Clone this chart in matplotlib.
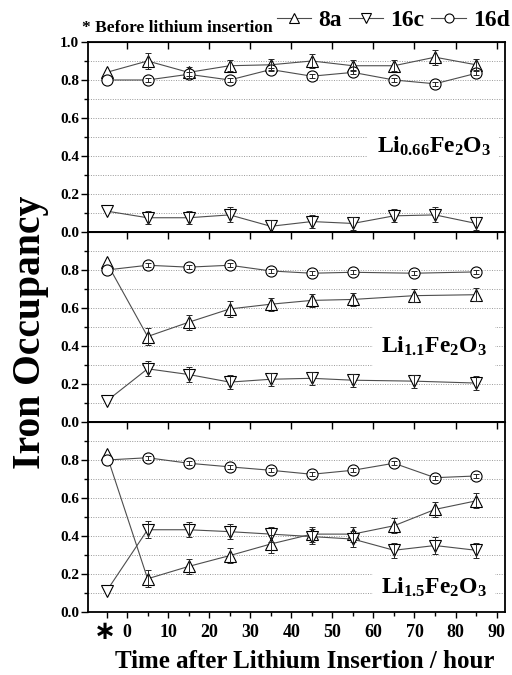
import numpy as np
import matplotlib
matplotlib.use("Agg")
import matplotlib.pyplot as plt
from matplotlib.lines import Line2D

plt.rcParams["font.family"] = ["Liberation Serif", "DejaVu Serif"]
plt.rcParams["font.weight"] = "bold"
plt.rcParams["mathtext.fontset"] = "custom"
plt.rcParams["mathtext.rm"] = "Liberation Serif:bold"
plt.rcParams["mathtext.it"] = "Liberation Serif:bold"
plt.rcParams["mathtext.bf"] = "Liberation Serif:bold"

# ── data (x = -5 is the "before lithium insertion" point) ─────────────────────
x_066 = [-5, 5, 15, 25, 35, 45, 55, 65, 75, 85]
a8_066 = [0.84, 0.90, 0.84, 0.875, 0.88, 0.90, 0.875, 0.875, 0.92, 0.88]
c16_066 = [0.11, 0.075, 0.075, 0.09, 0.03, 0.055, 0.045, 0.085, 0.09, 0.045]
d16_066 = [0.80, 0.80, 0.83, 0.80, 0.855, 0.82, 0.84, 0.80, 0.78, 0.835]
a8_066_err = [0, 0.04, 0.03, 0.03, 0.03, 0.035, 0.03, 0.03, 0.04, 0.03]
c16_066_err = [0, 0.035, 0.035, 0.04, 0.035, 0.035, 0.035, 0.035, 0.04, 0.035]
d16_066_err = [0, 0.01, 0.01, 0.01, 0.01, 0.01, 0.01, 0.01, 0.01, 0.01]

x_11 = [-5, 5, 15, 25, 35, 45, 55, 70, 85]
a8_11 = [0.84, 0.45, 0.525, 0.595, 0.62, 0.64, 0.645, 0.665, 0.67]
c16_11 = [0.11, 0.28, 0.25, 0.21, 0.225, 0.23, 0.22, 0.215, 0.205]
d16_11 = [0.80, 0.825, 0.815, 0.825, 0.795, 0.783, 0.788, 0.783, 0.79]
a8_11_err = [0, 0.045, 0.04, 0.04, 0.035, 0.035, 0.035, 0.035, 0.035]
c16_11_err = [0, 0.04, 0.04, 0.035, 0.035, 0.035, 0.035, 0.035, 0.035]
d16_11_err = [0, 0.01, 0.01, 0.01, 0.01, 0.01, 0.01, 0.01, 0.01]

x_15 = [-5, 5, 15, 25, 35, 45, 55, 65, 75, 85]
a8_15 = [0.83, 0.175, 0.24, 0.297, 0.358, 0.41, 0.41, 0.454, 0.54, 0.585]
c16_15 = [0.11, 0.433, 0.433, 0.423, 0.41, 0.397, 0.384, 0.325, 0.35, 0.325]
d16_15 = [0.80, 0.812, 0.783, 0.764, 0.746, 0.725, 0.746, 0.783, 0.707, 0.716]
a8_15_err = [0, 0.045, 0.04, 0.04, 0.045, 0.04, 0.04, 0.04, 0.04, 0.04]
c16_15_err = [0, 0.045, 0.04, 0.04, 0.04, 0.04, 0.04, 0.04, 0.045, 0.04]
d16_15_err = [0, 0.01, 0.01, 0.01, 0.01, 0.01, 0.01, 0.01, 0.01, 0.01]

panels = [
    (x_066, a8_066, c16_066, d16_066, a8_066_err, c16_066_err, d16_066_err,
     r"$\mathrm{Li_{0.66}Fe_2O_3}$", 0.45),
    (x_11, a8_11, c16_11, d16_11, a8_11_err, c16_11_err, d16_11_err,
     r"$\mathrm{Li_{1.1}Fe_2O_3}$", 0.40),
    (x_15, a8_15, c16_15, d16_15, a8_15_err, c16_15_err, d16_15_err,
     r"$\mathrm{Li_{1.5}Fe_2O_3}$", 0.13),
]

series_style = [("^", 9), ("v", 9), ("o", 8)]
x_major = [-5] + list(range(0, 91, 10))
x_labels = [""] + [str(v) for v in range(0, 91, 10)]

# ── figure ────────────────────────────────────────────────────────────────────
fig = plt.figure(figsize=(5.12, 6.75), dpi=100, facecolor="white")
LEFT, WIDTH, H = 0.172, 0.814, 0.2815
bottoms = [0.0933 + 2 * H, 0.0933 + H, 0.0933]

for i, (xs, a8, c16, d16, ea, ec, ed, label, ly) in enumerate(panels):
    ax = fig.add_axes([LEFT, bottoms[i], WIDTH, H])
    ax.set_xlim(-9.5, 92)
    ax.set_ylim(0, 1.0)

    for g in np.arange(0.1, 0.95, 0.1):
        ax.axhline(g, ls=(0, (1, 1.5)), color="0.6", lw=0.7, zorder=1)

    for (mk, ms), ys, es in zip(series_style, (a8, c16, d16), (ea, ec, ed)):
        xs_a, ys_a, es_a = np.array(xs), np.array(ys), np.array(es)
        ax.plot(xs_a, ys_a, color="0.3", lw=0.8, marker=mk, ms=ms,
                mfc="white", mec="black", mew=0.8, zorder=3)
        m = es_a > 0
        ax.errorbar(xs_a[m], ys_a[m], yerr=es_a[m], fmt="none", ecolor="0.15",
                    elinewidth=0.7, capsize=2.5, capthick=0.7, zorder=4)

    ax.text(74.7, ly, label, fontsize=17, ha="center", va="center", zorder=2,
            bbox=dict(facecolor="white", edgecolor="none", pad=6))

    for sp in ax.spines.values():
        sp.set_linewidth(1.3)

    ax.set_yticks(np.arange(0, 1.01 if i == 0 else 0.81, 0.2))
    ax.set_yticks(np.arange(0.1, 1.0, 0.2), minor=True)
    ax.yaxis.set_major_formatter(matplotlib.ticker.FormatStrFormatter("%.1f"))
    ax.tick_params(axis="y", which="major", direction="out", length=5, width=1,
                   labelsize=11, pad=1.5, right=False)
    ax.tick_params(axis="y", which="minor", direction="out", length=3, width=1,
                   right=False)

    top = ax.secondary_xaxis("top")
    top.set_xticks(range(0, 91, 10))
    top.tick_params(direction="in", length=5, width=1, labeltop=False)

    if i == 2:
        ax.set_xticks(x_major)
        ax.set_xticklabels(x_labels)
        ax.set_xticks(range(5, 90, 10), minor=True)
        ax.tick_params(axis="x", which="major", direction="out", length=4.5,
                       width=1, labelsize=13, pad=4)
        ax.tick_params(axis="x", which="minor", direction="out", length=3,
                       width=1)
        # "before insertion" marker under the -5 tick
        ax.text(-5.3, -0.105, "\u2217", transform=ax.get_xaxis_transform(),
                fontsize=19, family=["DejaVu Sans"], ha="center", va="center")
    else:
        ax.set_xticks([])

fig.text(0.06, 0.508, "Iron Occupancy", rotation=90, fontsize=28.5,
         ha="center", va="center")
fig.text(0.596, 0.011, "Time after Lithium Insertion / hour", fontsize=18,
         ha="center", va="baseline")
fig.text(0.160, 0.958, "* Before lithium insertion", fontsize=12.5,
         ha="left", va="center")

handles = [Line2D([], [], color="0.3", lw=0.8, marker=mk, ms=ms - 1.5,
                  mfc="white", mec="black", mew=0.8)
           for mk, ms in series_style]
fig.legend(handles, ["8a", "16c", "16d"], ncol=3, loc="center right",
           bbox_to_anchor=(1.0, 0.970), fontsize=17, frameon=True,
           facecolor="white", edgecolor="none", framealpha=1,
           handlelength=1.45, handletextpad=0.3, columnspacing=0.3,
           borderpad=0.1, borderaxespad=0)

fig.savefig("out.png", dpi=100, facecolor="white")
